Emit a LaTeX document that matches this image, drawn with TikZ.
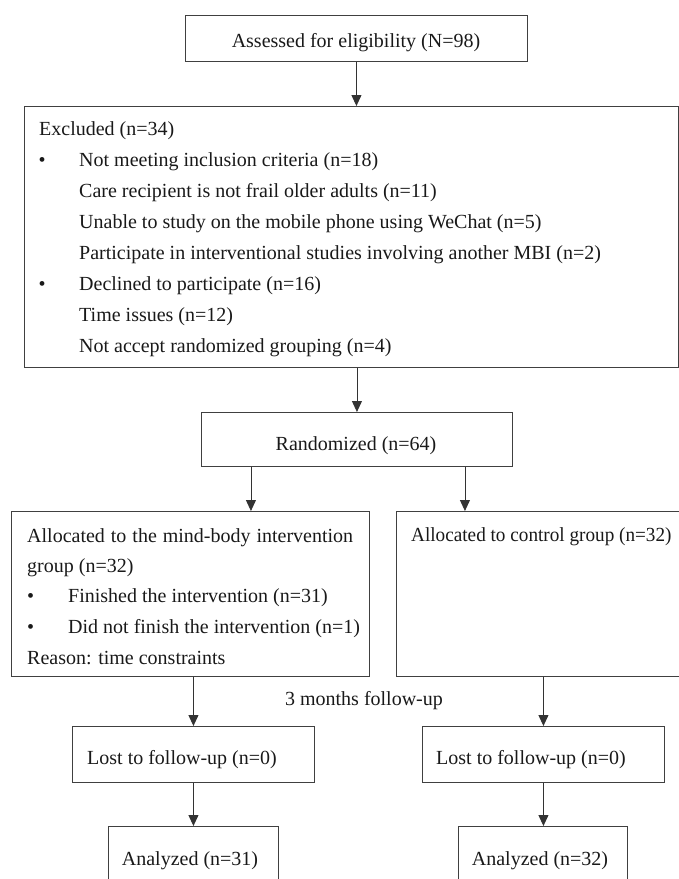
\documentclass[tikz,border=0pt]{standalone}
\usepackage{fontspec}
\setmainfont{Liberation Serif}
\usetikzlibrary{arrows.meta,calc}
\begin{document}
\begin{tikzpicture}[x=1pt,y=-1pt,
  box/.style={draw=black!75,line width=0.9pt,inner sep=0pt,anchor=north west},
  txt/.style={inner sep=0pt,font=\fontsize{20}{24}\selectfont,text=black!90},
  arr/.style={draw=black!80,line width=0.9pt,-{Triangle[length=11pt,width=10pt]}}]
\clip (0,0) rectangle (679,879);
% boxes
\node[box,minimum width=342pt,minimum height=46pt] (top) at (185,15) {};
\node[box,minimum width=654pt,minimum height=261pt] (excl) at (24,106) {};
\node[box,minimum width=311pt,minimum height=54pt] (rand) at (201,412) {};
\node[box,minimum width=358pt,minimum height=165pt] (allocL) at (11,511) {};
\node[box,minimum width=284pt,minimum height=165pt] (allocR) at (396,511) {};
\node[box,minimum width=242pt,minimum height=56pt] (lostL) at (72,726) {};
\node[box,minimum width=242pt,minimum height=56pt] (lostR) at (422,726) {};
\node[box,minimum width=170pt,minimum height=70pt] (anaL) at (108,826) {};
\node[box,minimum width=169pt,minimum height=70pt] (anaR) at (458,826) {};
% texts
\node[txt,anchor=base] (ttop) at (356,47) {Assessed for eligibility (N=98)};
\node[txt,anchor=base west] (e0) at (39,135) {Excluded (n=34)};
\node[txt,anchor=base west] (b1) at (38.5,166) {\textbullet};
\node[txt,anchor=base west] (e1) at (79,166) {Not meeting inclusion criteria (n=18)};
\node[txt,anchor=base west] (e2) at (79,197) {Care recipient is not frail older adults (n=11)};
\node[txt,anchor=base west] (e3) at (79,228) {Unable to study on the mobile phone using WeChat (n=5)};
\node[txt,anchor=base west] (e4) at (79,259) {Participate in interventional studies involving another MBI (n=2)};
\node[txt,anchor=base west] (b2) at (38.5,290) {\textbullet};
\node[txt,anchor=base west] (e5) at (79,290) {Declined to participate (n=16)};
\node[txt,anchor=base west] (e6) at (79,321) {Time issues (n=12)};
\node[txt,anchor=base west] (e7) at (79,352) {Not accept randomized grouping (n=4)};
\node[txt,anchor=base] (trand) at (356,450) {Randomized (n=64)};
\node[txt,anchor=base west] (l1) at (27,542) {\makebox[326pt][s]{Allocated to the mind-body intervention}};
\node[txt,anchor=base west] (l2) at (27,572) {group (n=32)};
\node[txt,anchor=base west] (b3) at (27,602) {\textbullet};
\node[txt,anchor=base west] (l3) at (68,602) {Finished the intervention (n=31)};
\node[txt,anchor=base west] (b4) at (27,633) {\textbullet};
\node[txt,anchor=base west] (l4) at (68,633) {Did not finish the intervention (n=1)};
\node[txt,anchor=base west] (l5) at (27,664) {Reason: time constraints};
\node[txt,anchor=base west] (r1) at (411,541) {\scalebox{0.96}[1]{Allocated to control group (n=32)}};
\node[txt,anchor=base] (fu) at (364,705) {3 months follow-up};
\node[txt,anchor=base west] (tlostL) at (87,764) {Lost to follow-up (n=0)};
\node[txt,anchor=base west] (tlostR) at (436,764) {Lost to follow-up (n=0)};
\node[txt,anchor=base] (tanaL) at (190,865) {Analyzed (n=31)};
\node[txt,anchor=base] (tanaR) at (540,865) {Analyzed (n=32)};
% arrows
\draw[arr] (top.south) -- (top.south |- excl.north);
\draw[arr] (rand.north |- excl.south) -- (rand.north);
\draw[arr] ([xshift=-106pt]rand.south) -- ([xshift=-106pt]rand.south |- allocL.north);
\draw[arr] ([xshift=108pt]rand.south) -- ([xshift=108pt]rand.south |- allocR.north);
\draw[arr] (lostL.north |- allocL.south) -- (lostL.north);
\draw[arr] (lostR.north |- allocR.south) -- (lostR.north);
\draw[arr] (lostL.south) -- (lostL.south |- anaL.north);
\draw[arr] (lostR.south) -- (lostR.south |- anaR.north);
\end{tikzpicture}
\end{document}
